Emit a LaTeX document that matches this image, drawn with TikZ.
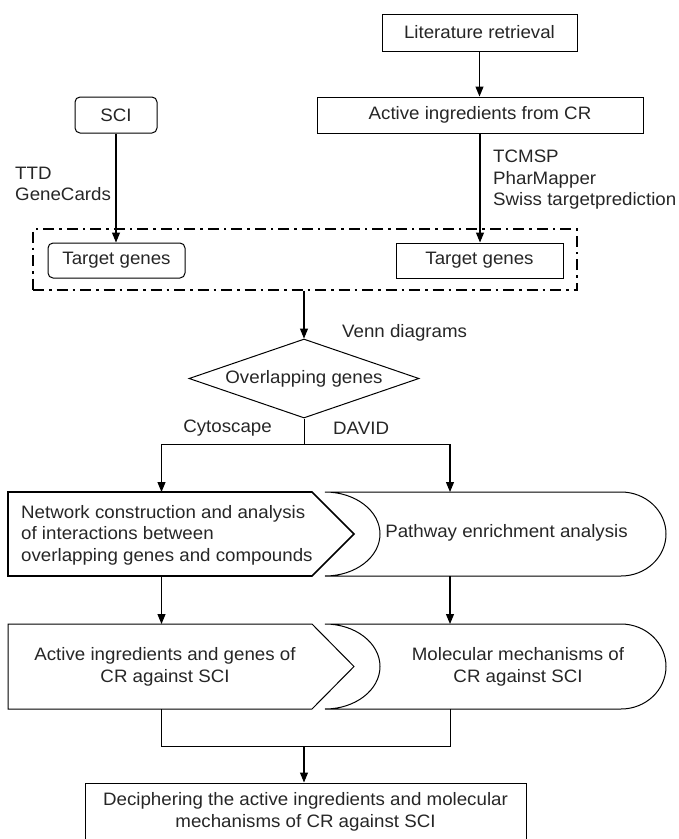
\documentclass[tikz,border=0pt]{standalone}
\usepackage{fontspec}
\setmainfont[FakeStretch=1.04]{Liberation Sans}
\usetikzlibrary{shapes.geometric,arrows.meta}
\begin{document}
\begin{tikzpicture}[x=1pt,y=-1pt,
  every node/.style={font=\fontsize{18}{21.5}\selectfont, text=black!85},
  box/.style={draw=black, line width=1pt, inner sep=0pt},
  rbox/.style={box, rounded corners=5pt},
  lbl/.style={inner sep=0pt, align=left},
  shp/.style={draw=black, line width=1pt},
  arr/.style={-{Triangle[length=10pt,width=8pt]}, line width=1.1pt},
  ln/.style={line width=0.8pt}]
\useasboundingbox (0,0) rectangle (679,839);

% top row
\node[box, minimum width=195pt, minimum height=37pt] (lit) at (479.5,32.5) {Literature retrieval};
\node[box, minimum width=326pt, minimum height=36pt] (act) at (480,115) {Active ingredients from CR};
\node[rbox, minimum width=82pt, minimum height=36pt] (sci) at (116,115) {SCI};

% labels
\node[lbl, anchor=west] (ttd) at (15,184) {TTD\\GeneCards};
\node[lbl, anchor=west] (tcm) at (493,180) {TCMSP\\PharMapper\\Swiss targetprediction};

% dash-dot group
\node[draw=black, line width=1.8pt, dash pattern=on 11pt off 5pt on 2.5pt off 5pt,
      minimum width=544pt, minimum height=61pt, inner sep=0pt] (grp) at (305,259.5) {};
\node[rbox, minimum width=137pt, minimum height=35pt] (tg1) at (116.5,260.5) {Target genes};
\node[box, minimum width=167pt, minimum height=35pt] (tg2) at (479.5,260.5) {Target genes};

\draw[arr] (lit.south) -- (lit.south |- act.north);
\draw[arr] (sci.south) -- (sci.south |- tg1.north);
\draw[arr] (act.south) -- (act.south |- tg2.north);

% diamond
\node[draw=black, line width=1pt, diamond, aspect=2.9, minimum width=230pt, minimum height=79pt, inner sep=0pt] (ovl) at (304,378.5) {Overlapping genes};
\draw[arr] (grp.south -| ovl.north) -- (ovl.north);
\node[lbl, anchor=west] (venn) at (342,333) {Venn diagrams};
\node[lbl, anchor=east] (cyto) at (272,428) {Cytoscape};
\node[lbl, anchor=west] (david) at (333,428) {DAVID};

\coordinate (split) at (304,444);
\coordinate (splL) at (161.5,444);
\coordinate (splR) at (450,444);
\draw[ln] (ovl.south) -- (split);
\draw[ln] (splL) -- (splR);

% row 1
\draw[shp, line width=1.6pt] (8,492) -- (312,492) -- (354,534) -- (312,576) -- (8,576) -- cycle;
\draw[shp] (325,492) -- (621,492)
   arc[start angle=-90, end angle=90, x radius=45, y radius=42]
   -- (325,576)
   arc[start angle=90, end angle=-90, x radius=55, y radius=42] -- cycle;
\node[lbl, anchor=west] (net) at (21,535) {Network construction and analysis\\of interactions between\\overlapping genes and compounds};
\node[inner sep=0pt] (path) at (506.5,533) {Pathway enrichment analysis};
\coordinate (netT) at (161.5,492);
\coordinate (netB) at (161.5,576);
\coordinate (pathT) at (450,492);
\coordinate (pathB) at (450,576);
\draw[arr] (splL) -- (netT);
\draw[arr] (splR) -- (pathT);

% row 2
\draw[shp] (8,624) -- (312,624) -- (354,666.5) -- (312,709) -- (8,709) -- cycle;
\draw[shp] (325,624) -- (621,624)
   arc[start angle=-90, end angle=90, x radius=45, y radius=42.5]
   -- (325,709)
   arc[start angle=90, end angle=-90, x radius=55, y radius=42.5] -- cycle;
\node[inner sep=0pt, align=center] (aig) at (165,667) {Active ingredients and genes of\\CR against SCI};
\node[inner sep=0pt, align=center] (mol) at (518,667) {Molecular mechanisms of\\CR against SCI};
\coordinate (aigT) at (161.5,624);
\coordinate (aigB) at (161.5,709);
\coordinate (molT) at (450,624);
\coordinate (molB) at (450,709);
\draw[arr] (netB) -- (aigT);
\draw[arr] (pathB) -- (molT);

% merge
\coordinate (mL) at (161.5,746);
\coordinate (mR) at (450,746);
\coordinate (mC) at (304,746);
\draw[ln] (aigB) -- (mL) -- (mR) -- (molB);
\node[box, minimum width=441pt, minimum height=58pt, align=center] (fin) at (305.5,812) {Deciphering the active ingredients and molecular\\mechanisms of CR against SCI};
\draw[arr] (mC) -- (mC |- fin.north);
\end{tikzpicture}
\end{document}
